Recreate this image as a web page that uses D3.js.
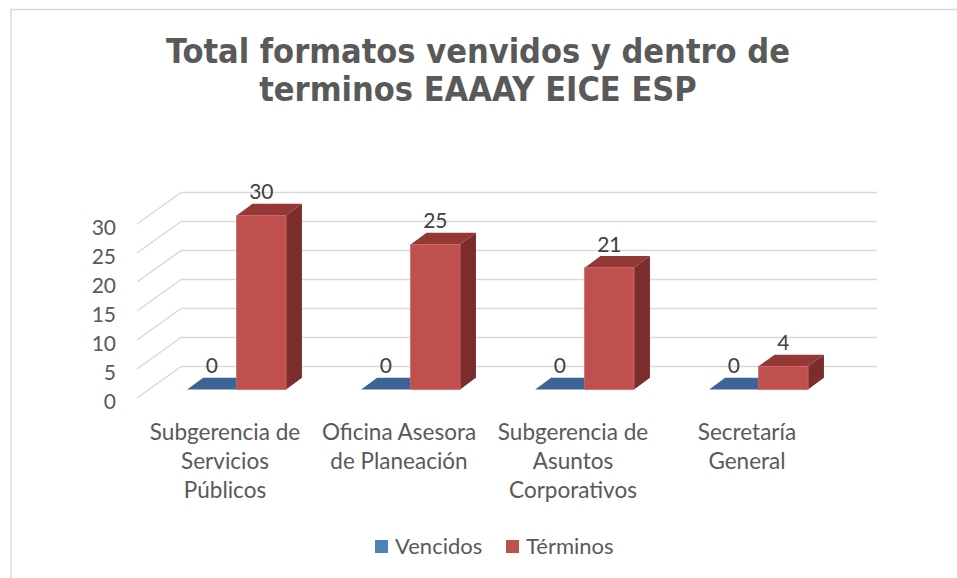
<!DOCTYPE html>
<html>
<head>
<meta charset="utf-8">
<script src="https://cdn.jsdelivr.net/npm/d3@7"></script>
<style>
  html, body { margin: 0; padding: 0; background: #fff; }
  svg { display: block; }
</style>
</head>
<body>
<svg id="chart"></svg>
<script>
// datos
const categories = ["Subgerencia de Servicios Públicos", "Oficina Asesora de Planeación",
  "Subgerencia de Asuntos Corporativos", "Secretaría General"];
const series = ["Vencidos", "Términos"];
const vencidos = [0, 0, 0, 0];
const terminos = [30, 25, 21, 4];
const yTicks = [0, 5, 10, 15, 20, 25, 30];
const titleLines = ["Total formatos venvidos y dentro de", "terminos EAAAY EICE ESP"];

const W = 957, H = 578;
const font = "Lato, 'Open Sans', sans-serif";
const textColor = "#595959";

// colores: frente, arriba, lado
const colors = {
  "Vencidos": { front: "#4f81bd", top: "#3c6494", side: "#2f4f76" },
  "Términos": { front: "#c0504d", top: "#943836", side: "#7a2d2c" }
};

// profundidad 3D (oblicua)
const depth = { dx: 43, dy: -31.5 };
const barF0 = 0.27, barF1 = 0.64;

const svg = d3.select("#chart").attr("width", W).attr("height", H);

// marco
svg.append("rect")
  .attr("x", 11).attr("y", 9.5)
  .attr("width", W + 20).attr("height", H + 20)
  .attr("fill", "#fff")
  .attr("stroke", "#d9d9d9").attr("stroke-width", 1.5);

// escalas (plano frontal)
const x = d3.scaleBand().domain(categories).range([138, 834]);
const x1 = d3.scaleBand().domain(series).range([0, x.bandwidth()]).paddingOuter(0.76);
const y = d3.scaleLinear().domain([0, 30]).range([398, 224]);

const P = (px, v, f) => [px + f * depth.dx, y(v) + f * depth.dy];

// titulo
svg.append("text")
  .attr("x", 478).attr("y", 63)
  .attr("text-anchor", "middle")
  .style("font-family", "'DejaVu Sans Condensed', 'DejaVu Sans', sans-serif")
  .style("font-weight", "bold")
  .style("font-size", "34px")
  .style("fill", textColor)
  .selectAll("tspan")
  .data(titleLines)
  .join("tspan")
  .attr("x", 478)
  .attr("dy", (d, i) => i ? 38 : 0)
  .text(d => d);

// lineas de cuadricula (pared trasera y lateral)
const [x0, x1r] = x.range();
const grid = svg.append("g")
  .attr("stroke", "#d9d9d9").attr("stroke-width", 1.5).attr("fill", "none");
grid.selectAll("path.back")
  .data(yTicks)
  .join("path")
  .attr("class", "back")
  .attr("d", v => d3.line()([P(x0, v, 1), P(x1r, v, 1)]));
grid.selectAll("path.side")
  .data(yTicks)
  .join("path")
  .attr("class", "side")
  .attr("d", v => d3.line()([P(x0 - 1, v, 0), P(x0, v, 1)]));

// etiquetas eje y
svg.append("g")
  .selectAll("text")
  .data(yTicks)
  .join("text")
  .attr("x", 116)
  .attr("y", v => y(v) + 2)
  .attr("text-anchor", "end")
  .attr("dominant-baseline", "central")
  .style("font-family", font)
  .style("font-size", "21px")
  .style("fill", textColor)
  .text(v => v);

// barras
const bars = [];
categories.forEach((c, i) => {
  bars.push({ cat: c, s: "Vencidos", v: vencidos[i] });
  bars.push({ cat: c, s: "Términos", v: terminos[i] });
});

const gBars = svg.append("g");
bars.forEach(d => {
  const xl = x(d.cat) + x1(d.s);
  const xr = xl + x1.bandwidth();
  const col = colors[d.s];
  const g = gBars.append("g");
  const line = d3.line();
  // cara superior
  g.append("path")
    .attr("d", line([P(xl, d.v, barF0), P(xr, d.v, barF0), P(xr, d.v, barF1), P(xl, d.v, barF1)]) + "Z")
    .attr("fill", col.top);
  if (d.v > 0) {
    // cara lateral
    g.append("path")
      .attr("d", line([P(xr, 0, barF0), P(xr, d.v, barF0), P(xr, d.v, barF1), P(xr, 0, barF1)]) + "Z")
      .attr("fill", col.side);
    // cara frontal
    const [fx, fy] = P(xl, d.v, barF0);
    const [, by] = P(xl, 0, barF0);
    g.append("rect")
      .attr("x", fx).attr("y", fy)
      .attr("width", x1.bandwidth()).attr("height", by - fy)
      .attr("fill", col.front)
      .attr("stroke", "#cf6764").attr("stroke-width", 0.8);
  }
  // etiqueta de datos
  const [lx, ly] = P(xl + x1.bandwidth() / 2, d.v, barF0);
  g.append("text")
    .attr("x", lx).attr("y", ly - 16)
    .attr("text-anchor", "middle")
    .style("font-family", font)
    .style("font-size", "21px")
    .style("fill", "#404040")
    .text(d.v);
});

// etiquetas de categorias
const maxW = 160;
const catG = svg.append("g");
categories.forEach(c => {
  const t = catG.append("text")
    .attr("text-anchor", "middle")
    .style("font-family", font)
    .style("font-size", "22.5px")
    .style("fill", textColor);
  const cx = x(c) + x.bandwidth() / 2;
  // ajuste de lineas por ancho
  const words = c.split(" ");
  const lines = [];
  let cur = [];
  const probe = t.append("tspan");
  words.forEach(w => {
    const test = cur.concat(w).join(" ");
    probe.text(test);
    if (cur.length && probe.node().getComputedTextLength() > maxW) {
      lines.push(cur.join(" "));
      cur = [w];
    } else cur.push(w);
  });
  lines.push(cur.join(" "));
  probe.remove();
  lines.forEach((ln, i) => {
    t.append("tspan").attr("x", cx).attr("y", 440 + i * 29).text(ln);
  });
});

// leyenda
const legend = svg.append("g");
const legX = [375, 506];
series.forEach((s, i) => {
  legend.append("rect")
    .attr("x", legX[i]).attr("y", 540)
    .attr("width", 13).attr("height", 13)
    .attr("fill", colors[s].front);
  legend.append("text")
    .attr("x", legX[i] + 20).attr("y", 554)
    .style("font-family", font)
    .style("font-size", "22px")
    .style("fill", textColor)
    .text(s);
});
</script>
</body>
</html>
